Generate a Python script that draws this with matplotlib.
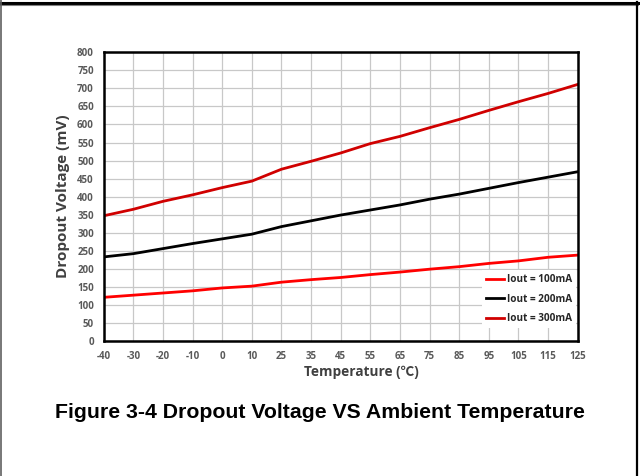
import matplotlib
matplotlib.use("Agg")
import matplotlib.pyplot as plt
from matplotlib.lines import Line2D

temps = ["-40", "-30", "-20", "-10", "0", "10", "25", "35", "45", "55",
         "65", "75", "85", "95", "105", "115", "125"]
iout_100 = [121, 127, 133, 139, 147, 152, 163, 170, 176, 184, 191, 199, 206, 215, 222, 232, 238]
iout_200 = [233, 242, 256, 270, 283, 296, 317, 333, 349, 363, 377, 393, 407, 423, 439, 454, 469]
iout_300 = [347, 365, 387, 405, 425, 443, 476, 498, 521, 547, 567, 591, 614, 639, 663, 686, 711]
y_ticks = list(range(0, 801, 50))

fig = plt.figure(figsize=(6.4, 4.76), dpi=100)
ax = fig.add_axes([103.7/640, 1-341/476, (577.7-103.7)/640, (341-52.3)/476])

xs = list(range(len(temps)))
ax.plot(xs, iout_100, color="#FF0000", lw=2.0, label="Iout = 100mA", zorder=3)
ax.plot(xs, iout_200, color="#000000", lw=2.0, label="Iout = 200mA", zorder=3)
ax.plot(xs, iout_300, color="#D00000", lw=2.0, label="Iout = 300mA", zorder=3)

ax.set_xlim(0, len(temps)-1)
ax.set_ylim(0, 800)
ax.set_xticks(xs)
ax.set_xticklabels(temps)
ax.set_yticks(y_ticks)
ax.grid(True, color="#C8C8C8", lw=0.9, zorder=0)
ax.tick_params(length=0, labelsize=7, labelcolor="#595959", pad=7)
for lab in ax.get_xticklabels() + ax.get_yticklabels():
    lab.set_fontweight("bold")
    lab.set_family("Open Sans")
for s in ax.spines.values():
    s.set_linewidth(1.8)
    s.set_color("black")
    s.set_zorder(5)

ax.set_ylabel("Dropout Voltage (mV)", fontsize=11, fontweight="bold",
              color="#404040", family="Open Sans")
ax.yaxis.set_label_coords(-(103.7-70)/474, 0.5)
ax.set_xlabel("Temperature (℃)", fontsize=9.8, fontweight="bold",
              color="#404040", family=["Open Sans", "Noto Sans CJK SC", "DejaVu Sans"])
ax.xaxis.set_label_coords((361-103.7)/474, -(372-341)/288.7)
ax.xaxis.label.set_va("center")

leg = ax.legend(loc="lower right", bbox_to_anchor=(1.0, 0.037), frameon=True,
                fancybox=False, framealpha=1, edgecolor="white", facecolor="white",
                handlelength=1.8, handletextpad=0.3, labelspacing=0.85,
                borderaxespad=0.2, prop={"weight": "bold", "family": "Open Sans", "size": 7.2})
leg.get_frame().set_linewidth(0)
leg.set_zorder(4)
for t in leg.get_texts():
    t.set_color("#262626")

fig.text(0.5, 1-413/476, "Figure 3-4 Dropout Voltage VS Ambient Temperature",
         ha="center", va="center", fontsize=15.3, fontweight="bold",
         family="Liberation Sans", color="black")

# page frame
fig.add_artist(Line2D([0, 638/640], [1-2.5/476, 1-2.5/476], color="black", lw=2.2))
fig.add_artist(Line2D([0, 638/640], [1-4.5/476, 1-4.5/476], color="#808080", lw=0.8))
fig.add_artist(Line2D([0.5/640, 0.5/640], [0, 1], color="#606060", lw=1.2))
fig.add_artist(Line2D([636.5/640, 636.5/640], [0, 1-2/476], color="black", lw=1.6))

fig.savefig("out.png", dpi=100)
